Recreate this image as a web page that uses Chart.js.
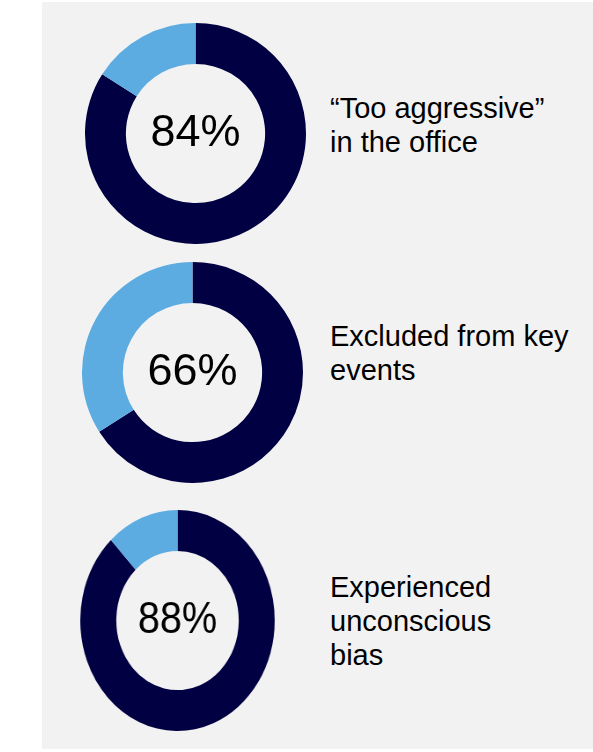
<!DOCTYPE html>
<html>
<head>
<meta charset="utf-8">
<script src="https://cdn.jsdelivr.net/npm/chart.js@4"></script>
<style>
  body { margin: 0; background: #ffffff; font-family: "Liberation Sans", Arial, sans-serif; }
  #panel { position: absolute; left: 42px; top: 2px; width: 551px; height: 747px; background: #f2f2f2; }
  .ring { position: absolute; }
  .label { position: absolute; left: 330px; font-size: 29px; line-height: 34px; color: #000; white-space: nowrap; }
</style>
</head>
<body>
<div id="panel"></div>
<canvas id="ring1" class="ring" width="221" height="221" style="left:85px; top:23px;"></canvas>
<canvas id="ring2" class="ring" width="221" height="221" style="left:82px; top:262px;"></canvas>
<canvas id="ring3" class="ring" width="221" height="221" style="left:67px; top:510px; transform: scaleX(0.88); transform-origin: 50% 50%;"></canvas>
<div class="label" style="top:91px;">“Too aggressive”<br>in the office</div>
<div class="label" style="top:319px;">Excluded from key<br>events</div>
<div class="label" style="top:570px;">Experienced<br>unconscious<br>bias</div>
<script>
//values (share who said yes)
const ringIds = ['ring1', 'ring2', 'ring3'];
const shareYes = [84, 66, 88];
const shareNo = [16, 34, 12];
const ringLabels = ['Yes', 'No'];

const navy = 'rgb(0, 0, 66)';
const lightBlue = 'rgb(92, 172, 226)';

//plugin that writes the percentage in the hole
const centerText = {
  id: 'centerText',
  afterDraw(chart, args, opts) {
    const ctx = chart.ctx;
    const meta = chart.getDatasetMeta(0).data[0];
    ctx.save();
    ctx.font = '45px "Liberation Sans", Arial, sans-serif';
    ctx.fillStyle = '#000';
    ctx.textAlign = 'center';
    ctx.textBaseline = 'middle';
    ctx.fillText(opts.text, meta.x, meta.y);
    ctx.restore();
  }
};

ringIds.forEach((id, i) => {
  const ctx = document.getElementById(id).getContext('2d');
  new Chart(ctx, {
    type: 'doughnut',
    data: {
      labels: ringLabels,
      datasets: [
        { data: [shareYes[i], shareNo[i]], backgroundColor: [navy, lightBlue], borderWidth: 0 }
      ]
    },
    options: {
      responsive: false,
      animation: false,
      events: [],
      cutout: '63%',
      layout: { padding: 0 },
      plugins: {
        legend: { display: false },
        tooltip: { enabled: false },
        centerText: { text: shareYes[i] + '%' }
      }
    },
    plugins: [centerText]
  });
});
</script>
</body>
</html>
